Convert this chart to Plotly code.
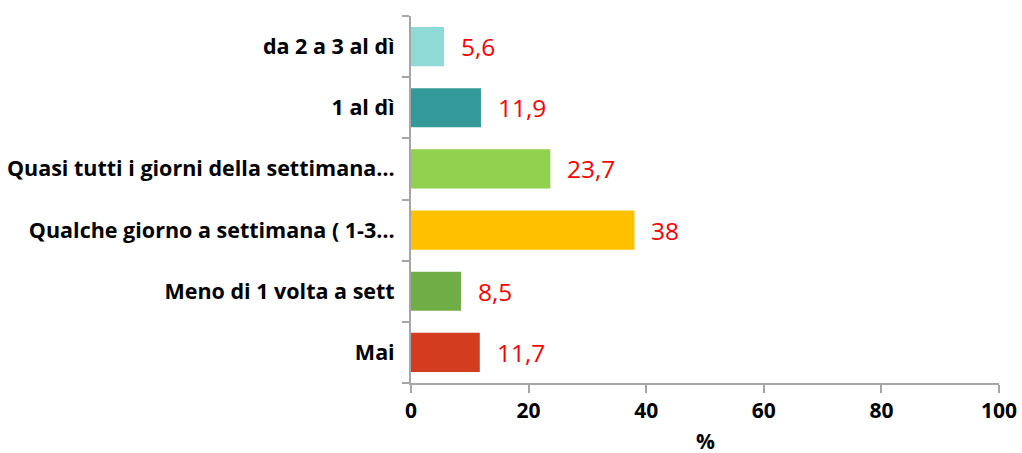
import plotly.graph_objects as go

# Categories listed top to bottom, as in the picture
categories = [
    "da 2 a 3 al dì",
    "1 al dì",
    "Quasi tutti i giorni della settimana…",
    "Qualche giorno a settimana ( 1-3…",
    "Meno di 1 volta a sett",
    "Mai",
]
values = [5.6, 11.9, 23.7, 38, 8.5, 11.7]
colors = ["#8fd9d6", "#339a99", "#92d050", "#ffc000", "#70ad47", "#d33c1f"]
x_ticks = [0, 20, 40, 60, 80, 100]

labels = [f"{v:g}".replace(".", ",") for v in values]

fig = go.Figure()

fig.add_trace(go.Bar(
    x=values, y=categories,
    orientation="h",
    marker=dict(color=colors, line=dict(width=0)),
    width=0.64,
    hoverinfo="skip",
))

# Red value labels to the right of each bar
for v, c, t in zip(values, categories, labels):
    fig.add_annotation(
        x=v, y=c, text=t, showarrow=False,
        xanchor="left", yanchor="middle", xshift=15,
        font=dict(family="Open Sans", size=24.5, color="#ff0000"),
    )

# x axis title, sitting low near the bottom edge
fig.add_annotation(
    x=0.5, y=0, xref="paper", yref="paper",
    text="<b>%</b>", showarrow=False,
    xanchor="center", yanchor="top", yshift=-42,
    font=dict(family="Open Sans", size=21, color="#000000"),
)

axis_grey = "#a6a6a6"

fig.update_layout(
    width=1022, height=453,
    margin=dict(l=411, r=23, t=16, b=70),
    paper_bgcolor="white",
    plot_bgcolor="white",
    showlegend=False,
    font=dict(family="Open Sans", color="#000000"),
    xaxis=dict(
        range=[0, 100],
        automargin=False,
        tickvals=x_ticks,
        ticktext=[f"<b>{t}</b>" for t in x_ticks],
        tickfont=dict(size=21),
        showgrid=False, zeroline=False,
        showline=True, linecolor=axis_grey, linewidth=2,
        ticks="outside", ticklen=8, tickcolor=axis_grey, tickwidth=2,
    ),
    yaxis=dict(
        autorange=False, range=[5.5, -0.5],
        automargin=False,
        type="category",
        tickvals=categories,
        ticktext=[f"<b>{c}</b>" for c in categories],
        tickfont=dict(size=21.5),
        tickson="boundaries",
        showgrid=False, zeroline=False,
        showline=True, linecolor=axis_grey, linewidth=2,
        ticks="outside", ticklen=7, tickcolor=axis_grey, tickwidth=2,
        ticklabelstandoff=10,
    ),
)

fig.write_html(
    "out.html",
    config={"displayModeBar": False},
    post_script="document.body.style.margin='0';",
)
